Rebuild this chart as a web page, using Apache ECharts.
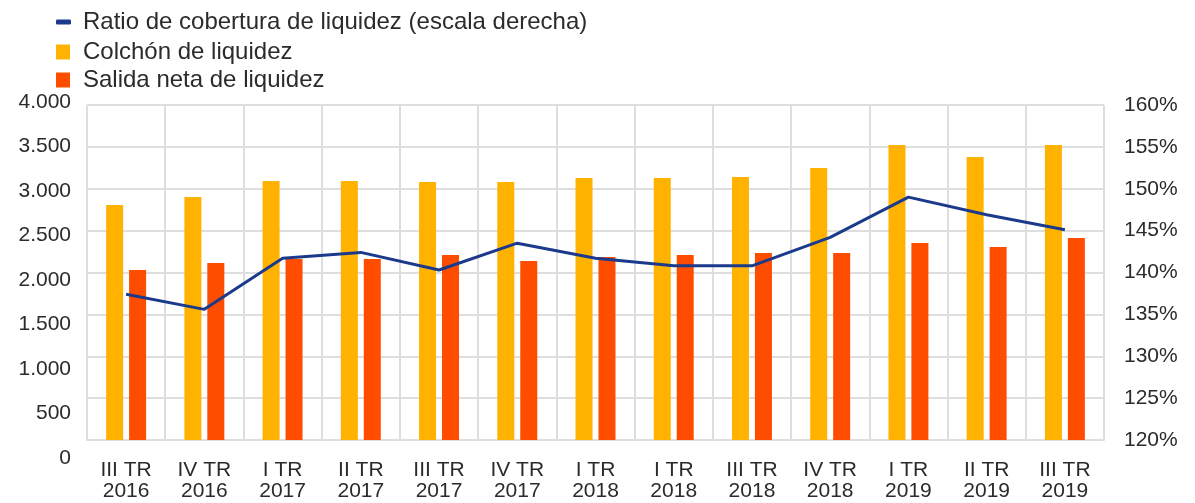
<!DOCTYPE html>
<html>
<head>
<meta charset="utf-8">
<script src="https://cdn.jsdelivr.net/npm/echarts@6/dist/echarts.min.js"></script>
<style>
  html, body { margin: 0; padding: 0; background: #fff; }
  #chart { width: 1195px; height: 503px; }
</style>
</head>
<body>
<div id="chart"></div>
<script>
// trimestres (el eje repite "I TR 2018" como en el original)
const categories = [
  'III TR\n2016', 'IV TR\n2016', 'I TR\n2017', 'II TR\n2017', 'III TR\n2017',
  'IV TR\n2017', 'I TR\n2018', 'I TR\n2018', 'III TR\n2018', 'IV TR\n2018',
  'I TR\n2019', 'II TR\n2019', 'III TR\n2019'
]
const colchon = [2806, 2901, 3093, 3093, 3081, 3081, 3128, 3128, 3140, 3248, 3522, 3379, 3522]
const salida = [2030, 2113, 2161, 2161, 2209, 2137, 2185, 2209, 2233, 2233, 2352, 2304, 2412]
const ratio = [137.4, 135.6, 141.7, 142.4, 140.3, 143.5, 141.7, 140.8, 140.8, 144.2, 149.0, 146.9, 145.1]

const FONT = 'Liberation Sans'
const textColor = '#2b2b2b'
const gridColor = '#dedede'

const chart = echarts.init(document.getElementById('chart'))

const legendBase = {
  orient: 'vertical',
  left: 51,
  selectedMode: false,
  textStyle: { fontFamily: FONT, fontSize: 24, color: textColor }
}

const option = {
  animation: false,
  legend: [
    Object.assign({}, legendBase, {
      top: 5,
      itemWidth: 15,
      itemHeight: 5,
      textStyle: Object.assign({}, legendBase.textStyle, { padding: [0, 0, 0, 7] }),
      data: [{ name: 'Ratio de cobertura de liquidez (escala derecha)', icon: 'roundRect' }]
    }),
    Object.assign({}, legendBase, {
      top: 35,
      itemWidth: 14,
      itemHeight: 15,
      itemGap: 4,
      textStyle: Object.assign({}, legendBase.textStyle, { padding: [0, 0, 0, 8] }),
      data: [
        { name: 'Colchón de liquidez', icon: 'rect' },
        { name: 'Salida neta de liquidez', icon: 'rect' }
      ]
    })
  ],
  grid: [
    { left: 87, right: 91, top: 105, bottom: 63 },
    // rejilla auxiliar: solo para colocar las etiquetas del eje izquierdo como en el original
    { left: 87, right: 91, top: 102, bottom: 45 }
  ],
  xAxis: [
    {
      type: 'category',
      data: categories,
      axisTick: { show: false },
      axisLine: { lineStyle: { color: gridColor, width: 2 } },
      splitLine: { show: true, lineStyle: { color: gridColor, width: 2 } },
      axisLabel: {
        interval: 0,
        margin: 20,
        fontFamily: FONT,
        fontSize: 21,
        lineHeight: 21,
        color: textColor
      }
    },
    { type: 'value', gridIndex: 1, show: false, min: 0, max: 1 }
  ],
  yAxis: [
    {
      type: 'value',
      min: 0,
      max: 4000,
      interval: 500,
      axisLine: { show: false },
      axisTick: { show: false },
      axisLabel: { show: false },
      splitLine: { lineStyle: { color: gridColor, width: 2 } }
    },
    {
      type: 'value',
      min: 120,
      max: 160,
      interval: 5,
      axisLine: { show: false },
      axisTick: { show: false },
      splitLine: { show: false },
      axisLabel: {
        margin: 20,
        fontFamily: FONT,
        fontSize: 21,
        color: textColor,
        formatter: '{value}%'
      }
    },
    {
      type: 'value',
      gridIndex: 1,
      min: 0,
      max: 4000,
      interval: 500,
      axisLine: { show: false },
      axisTick: { show: false },
      splitLine: { show: false },
      axisLabel: {
        margin: 16,
        fontFamily: FONT,
        fontSize: 21,
        color: textColor,
        formatter: v => v.toLocaleString('de-DE')
      }
    }
  ],
  series: [
    {
      name: 'Colchón de liquidez',
      type: 'bar',
      data: colchon,
      barWidth: 17,
      barGap: '35%',
      itemStyle: { color: '#ffb200' }
    },
    {
      name: 'Salida neta de liquidez',
      type: 'bar',
      data: salida,
      barWidth: 17,
      itemStyle: { color: '#ff4d00' }
    },
    {
      name: 'Ratio de cobertura de liquidez (escala derecha)',
      type: 'line',
      yAxisIndex: 1,
      data: ratio,
      symbol: 'none',
      lineStyle: { color: '#1c3a8c', width: 3 },
      itemStyle: { color: '#1c3a8c' }
    }
  ]
}

chart.setOption(option)
</script>
</body>
</html>
